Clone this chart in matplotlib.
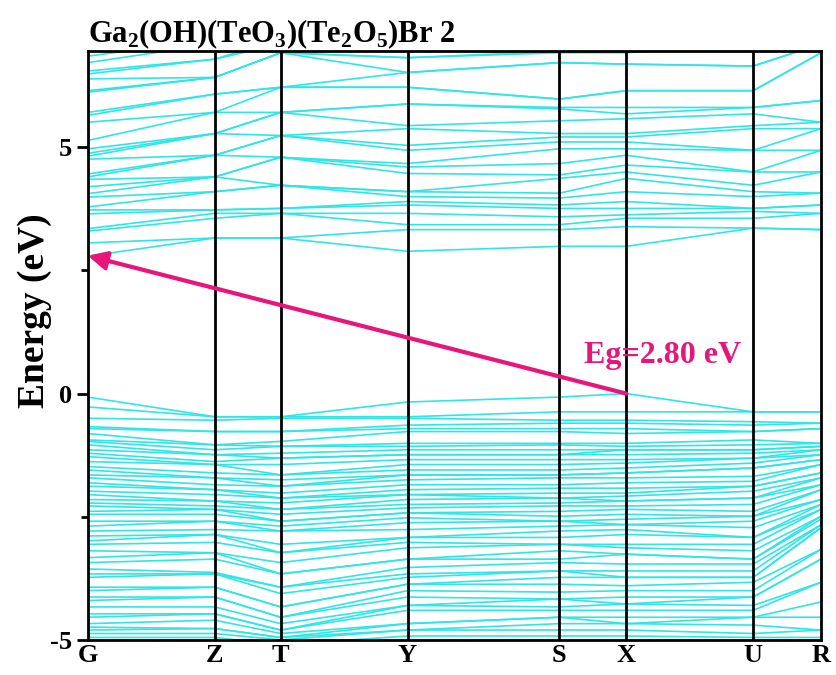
import numpy as np
import matplotlib
matplotlib.use("Agg")
import matplotlib.pyplot as plt

plt.rcParams['font.family'] = ['Liberation Serif', 'DejaVu Serif']
plt.rcParams['font.weight'] = 'bold'
plt.rcParams['mathtext.fontset'] = 'custom'
plt.rcParams['mathtext.rm'] = 'Liberation Serif:bold'
plt.rcParams['mathtext.bf'] = 'Liberation Serif:bold'

# high symmetry path
k_labels = ['G', 'Z', 'T', 'Y', 'S', 'X', 'U', 'R']
k_nodes = [0.0, 1.27, 1.93, 3.20, 4.72, 5.39, 6.66, 7.34]

# conduction bands, energies (eV) at each k point
cb_G = [2.79, 3.06, 3.30, 3.35, 3.65, 3.73, 3.79, 3.99, 4.06, 4.20, 4.35, 4.40, 4.46, 4.76,
        4.82, 4.88, 4.97, 5.14, 5.51, 5.65, 5.71, 6.12, 6.15, 6.39, 6.49, 6.55, 6.72, 6.85]
cb_Z = [3.16, 3.16, 3.56, 3.66, 3.73, 3.73, 4.10, 4.10, 4.40, 4.40, 4.40, 4.84, 4.84, 4.84,
        5.28, 5.28, 5.28, 5.71, 5.71, 6.08, 6.08, 6.42, 6.42, 6.42, 6.79, 6.79, 7.1, 7.2]
cb_T = [3.16, 3.16, 3.66, 3.66, 3.76, 3.76, 4.23, 4.23, 4.23, 4.80, 4.80, 4.80, 5.24, 5.24,
        5.24, 5.71, 5.71, 5.71, 6.22, 6.22, 6.22, 6.92, 6.92, 6.92, 7.1, 7.2, 7.3, 7.4]
cb_Y = [2.89, 3.33, 3.43, 3.66, 3.83, 3.90, 4.00, 4.10, 4.10, 4.47, 4.60, 4.67, 4.94, 5.04,
        5.38, 5.44, 5.88, 5.88, 6.22, 6.22, 6.52, 6.52, 6.82, 6.82, 7.1, 7.2, 7.3, 7.4]
cb_S = [2.99, 3.33, 3.43, 3.59, 3.76, 3.83, 3.97, 4.07, 4.37, 4.44, 4.67, 4.97, 5.11, 5.21,
        5.28, 5.54, 5.78, 5.81, 5.98, 5.98, 6.72, 6.72, 6.92, 6.95, 7.1, 7.2, 7.3, 7.4]
cb_X = [2.99, 3.39, 3.56, 3.63, 3.76, 3.90, 4.10, 4.37, 4.50, 4.64, 4.84, 4.97, 5.11, 5.21,
        5.28, 5.58, 5.68, 5.81, 6.15, 6.15, 6.69, 6.69, 6.92, 6.95, 7.1, 7.2, 7.3, 7.4]
cb_U = [3.36, 3.36, 3.56, 3.70, 3.76, 3.76, 4.00, 4.10, 4.23, 4.50, 4.50, 4.94, 4.94, 5.38,
        5.44, 5.68, 5.81, 5.81, 6.15, 6.15, 6.65, 6.65, 7.1, 7.1, 7.2, 7.2, 7.3, 7.4]
cb_R = [3.33, 3.33, 3.66, 3.66, 3.83, 3.83, 4.07, 4.07, 4.50, 4.50, 4.94, 4.94, 5.38, 5.38,
        5.51, 5.51, 5.95, 5.95, 6.92, 6.92, 7.1, 7.1, 7.2, 7.2, 7.3, 7.3, 7.4, 7.4]

# valence bands
vb_G = [-0.07, -0.27, -0.50, -0.67, -0.71, -0.81, -0.94, -0.97, -1.04, -1.14, -1.21, -1.28, -1.38,
        -1.48, -1.55, -1.65, -1.71, -1.81, -1.88, -1.98, -2.05, -2.15, -2.22, -2.28, -2.39, -2.45,
        -2.59, -2.69, -2.79, -2.89, -2.99, -3.06, -3.19, -3.33, -3.43, -3.56, -3.66, -3.73, -3.93,
        -4.00, -4.13, -4.20, -4.33, -4.47, -4.54, -4.67, -4.74, -4.80, -4.87, -4.95, -5.10, -5.20]
vb_Z = [-0.47, -0.47, -0.54, -0.77, -0.77, -1.04, -1.04, -1.14, -1.24, -1.24, -1.38, -1.44, -1.44,
        -1.61, -1.71, -1.71, -1.85, -1.95, -1.95, -2.05, -2.18, -2.18, -2.28, -2.35, -2.35, -2.45,
        -2.59, -2.59, -2.76, -2.86, -2.86, -3.02, -3.23, -3.23, -3.36, -3.63, -3.66, -3.66, -3.93,
        -3.93, -4.13, -4.13, -4.33, -4.47, -4.47, -4.60, -4.77, -4.77, -4.87, -4.95, -5.10, -5.20]
vb_T = [-0.47, -0.47, -0.50, -0.77, -0.77, -0.97, -1.07, -1.07, -1.21, -1.31, -1.31, -1.44, -1.65,
        -1.65, -1.75, -1.88, -1.88, -2.02, -2.12, -2.12, -2.22, -2.35, -2.35, -2.45, -2.59, -2.59,
        -2.69, -2.79, -2.79, -3.06, -3.23, -3.23, -3.43, -3.66, -3.66, -3.93, -3.93, -4.06, -4.33,
        -4.33, -4.54, -4.54, -4.67, -4.80, -4.80, -4.87, -4.95, -4.95, -5.00, -5.10, -5.15, -5.20]
vb_Y = [-0.17, -0.47, -0.50, -0.64, -0.71, -0.77, -1.01, -1.07, -1.14, -1.24, -1.24, -1.34, -1.44,
        -1.55, -1.65, -1.65, -1.75, -1.85, -1.95, -2.05, -2.05, -2.15, -2.25, -2.32, -2.42, -2.42,
        -2.52, -2.62, -2.76, -2.92, -2.92, -3.02, -3.13, -3.36, -3.36, -3.53, -3.66, -3.73, -3.87,
        -3.87, -4.00, -4.13, -4.30, -4.30, -4.40, -4.67, -4.67, -4.80, -4.80, -4.92, -5.05, -5.20]
vb_S = [-0.07, -0.37, -0.54, -0.60, -0.71, -0.77, -1.01, -1.04, -1.14, -1.24, -1.24, -1.34, -1.44,
        -1.55, -1.65, -1.65, -1.71, -1.85, -1.92, -2.02, -2.12, -2.12, -2.22, -2.28, -2.39, -2.49,
        -2.59, -2.59, -2.69, -2.79, -2.92, -3.06, -3.06, -3.19, -3.36, -3.43, -3.60, -3.60, -3.73,
        -3.87, -4.03, -4.17, -4.17, -4.33, -4.40, -4.54, -4.54, -4.67, -4.80, -4.92, -5.05, -5.20]
vb_X = [0.00, -0.37, -0.54, -0.60, -0.71, -0.81, -1.01, -1.07, -1.14, -1.14, -1.24, -1.34, -1.41,
        -1.51, -1.61, -1.61, -1.71, -1.81, -1.92, -2.02, -2.08, -2.18, -2.18, -2.28, -2.35, -2.45,
        -2.55, -2.66, -2.66, -2.76, -2.86, -3.06, -3.13, -3.26, -3.26, -3.46, -3.60, -3.73, -3.73,
        -3.90, -4.00, -4.13, -4.27, -4.27, -4.40, -4.54, -4.67, -4.67, -4.80, -4.92, -5.05, -5.20]
vb_U = [-0.37, -0.37, -0.57, -0.64, -0.77, -0.77, -0.94, -1.04, -1.14, -1.14, -1.21, -1.31, -1.31,
        -1.41, -1.51, -1.51, -1.68, -1.78, -1.88, -1.88, -1.98, -2.12, -2.12, -2.25, -2.39, -2.49,
        -2.49, -2.59, -2.72, -2.92, -2.92, -3.06, -3.19, -3.36, -3.36, -3.46, -3.60, -3.73, -3.73,
        -3.83, -4.00, -4.13, -4.13, -4.30, -4.40, -4.54, -4.54, -4.70, -4.87, -4.95, -5.05, -5.20]
vb_R = [-0.37, -0.37, -0.60, -0.60, -0.71, -0.71, -1.01, -1.01, -1.07, -1.07, -1.14, -1.14, -1.24,
        -1.24, -1.34, -1.34, -1.44, -1.44, -1.61, -1.61, -1.71, -1.71, -1.85, -1.85, -1.95, -1.95,
        -2.15, -2.15, -2.25, -2.25, -2.35, -2.35, -2.49, -2.49, -2.55, -2.66, -2.66, -2.72, -2.72,
        -3.16, -3.16, -3.36, -3.36, -3.83, -3.83, -4.23, -4.54, -4.80, -4.80, -4.95, -5.05, -5.20]

gap = 2.80

band_color = '#2EE6E6'
arrow_color = '#E8157A'

cb = np.sort(np.array([cb_G, cb_Z, cb_T, cb_Y, cb_S, cb_X, cb_U, cb_R]), axis=1)
vb = np.sort(np.array([vb_G, vb_Z, vb_T, vb_Y, vb_S, vb_X, vb_U, vb_R]), axis=1)

fig = plt.figure(figsize=(8.37, 6.75), dpi=100)
ax = fig.add_axes([0.105, 0.052, 0.876, 0.872])

for i in range(cb.shape[1]):
    ax.plot(k_nodes, cb[:, i], color=band_color, lw=1.2)
for i in range(vb.shape[1]):
    ax.plot(k_nodes, vb[:, i], color=band_color, lw=1.2)

for k in k_nodes[1:-1]:
    ax.axvline(k, color='black', lw=2)

# band gap arrow from VBM (X) to CBM (G)
ax.annotate('', xy=(k_nodes[0], gap), xytext=(k_nodes[5], 0.0),
            arrowprops=dict(arrowstyle='-|>', color=arrow_color, lw=3,
                            mutation_scale=28, shrinkA=0, shrinkB=0),
            annotation_clip=False)
ax.text(5.75, 0.77, 'Eg=2.80 eV', color=arrow_color, fontsize=23,
        fontweight='bold', ha='center', va='center')

ax.set_xlim(k_nodes[0], k_nodes[-1])
ax.set_ylim(-5, 6.95)
ax.set_xticks(k_nodes)
ax.set_xticklabels(k_labels, fontsize=19, fontweight='bold')
ax.tick_params(axis='x', length=0, pad=3)
ax.set_yticks([-5, 0, 5])
ax.set_yticklabels(['-5', '0', '5'], fontsize=19, fontweight='bold')
ax.set_yticks([-2.5, 2.5], minor=True)
ax.tick_params(axis='y', which='major', length=8, width=2, direction='out')
ax.tick_params(axis='y', which='minor', length=5, width=2, direction='out')
for sp in ax.spines.values():
    sp.set_linewidth(2)

ax.set_ylabel('Energy (eV)', fontsize=27, fontweight='bold', va='center')
ax.yaxis.set_label_coords(-0.073, 0.56)
ax.set_title('Ga$_2$(OH)(TeO$_3$)(Te$_2$O$_5$)Br 2', loc='left', fontsize=22,
             fontweight='bold', pad=6)

fig.savefig('out.png', dpi=100)
